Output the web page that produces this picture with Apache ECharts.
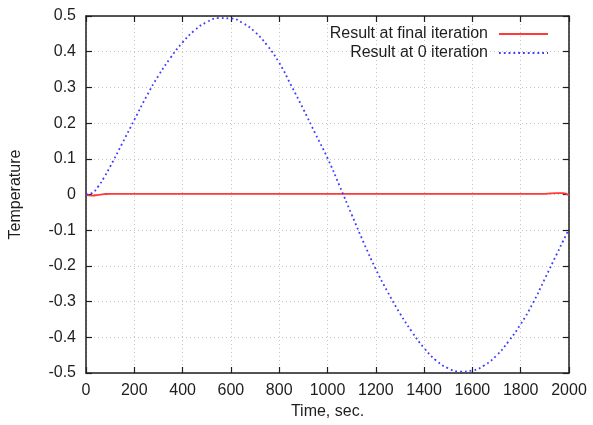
<!DOCTYPE html>
<html>
<head>
<meta charset="utf-8">
<script src="https://cdn.jsdelivr.net/npm/echarts@6/dist/echarts.min.js"></script>
<style>
  html, body { margin: 0; padding: 0; background: #fff; }
  #chart { width: 593px; height: 425px; }
</style>
</head>
<body>
<div id="chart"></div>
<script>
// Time samples (s)
const timeSec = [0, 25, 50, 75, 100, 150, 200, 250, 300, 350, 400, 450, 500, 550, 600, 650, 700, 750, 800, 850, 900, 950, 1000,
  1050, 1100, 1150, 1200, 1250, 1300, 1350, 1400, 1450, 1500, 1550, 1600, 1650, 1700, 1750, 1800, 1850, 1900, 1950, 1975, 2000];
// Temperature at iteration 0
const result0Iter = [0.000, 0.004, 0.022, 0.048, 0.078, 0.143, 0.209, 0.274, 0.333, 0.383, 0.426, 0.460, 0.483, 0.494, 0.493, 0.480, 0.455, 0.418, 0.369, 0.305, 0.239, 0.170, 0.102,
  0.024, -0.056, -0.135, -0.209, -0.274, -0.333, -0.385, -0.430, -0.465, -0.487, -0.496, -0.493, -0.478, -0.451, -0.411, -0.363, -0.305, -0.236, -0.166, -0.131, -0.097];
// Temperature at the final iteration
const resultFinal = [-0.001, -0.003, -0.001, 0.001, 0.002, 0.002, 0.002, 0.002, 0.002, 0.002, 0.002, 0.002, 0.002, 0.002, 0.002, 0.002, 0.002, 0.002, 0.002, 0.002, 0.002, 0.002, 0.002,
  0.002, 0.002, 0.002, 0.002, 0.002, 0.002, 0.002, 0.002, 0.002, 0.002, 0.002, 0.002, 0.002, 0.002, 0.002, 0.002, 0.002, 0.002, 0.004, 0.004, -0.002];

const xTicks = { min: 0, max: 2000, interval: 200 };
const yTicks = { min: -0.5, max: 0.5, interval: 0.1 };

const FONT = 'Liberation Sans, Arial, sans-serif';
const FS = 16;
const INK = '#1e1e1e';
const pairs = (ys) => timeSec.map((t, i) => [t, ys[i]]);
const fmtY = (v) => String(Math.round(v * 10) / 10);

const gridLine = { show: true, lineStyle: { color: '#c4c4c4', type: [1, 3], width: 1 } };
const frameLine = { show: true, onZero: false, lineStyle: { color: INK, width: 1.5 } };
const innerTick = { show: true, inside: true, length: 6, lineStyle: { color: INK, width: 1.2 } };

// Key entries: text on the left, line sample on the right (no marker)
const legendBase = {
  orient: 'horizontal',
  align: 'right',
  right: 39,
  itemWidth: 49,
  itemHeight: 2,
  textStyle: { fontFamily: FONT, fontSize: FS, color: INK, padding: [0, 6, 0, 0] }
};

const chart = echarts.init(document.getElementById('chart'), null, { renderer: 'canvas' });
chart.setOption({
  animation: false,
  backgroundColor: '#fff',
  grid: { left: 83, right: 24, top: 16, bottom: 52, containLabel: false },
  legend: [
    Object.assign({}, legendBase, { top: 21, data: ['Result at final iteration'] }),
    Object.assign({}, legendBase, { top: 40, data: ['Result at 0 iteration'] })
  ],
  xAxis: [
    {
      type: 'value', min: xTicks.min, max: xTicks.max, interval: xTicks.interval,
      name: 'Time, sec.', nameLocation: 'middle', nameGap: 31,
      nameTextStyle: { fontFamily: FONT, fontSize: FS, color: INK },
      axisLine: frameLine,
      axisTick: innerTick,
      axisLabel: { fontFamily: FONT, fontSize: FS, color: INK, margin: 10, formatter: (v) => String(v) },
      splitLine: gridLine
    },
    {
      type: 'value', position: 'top', min: xTicks.min, max: xTicks.max, interval: xTicks.interval,
      axisLine: frameLine, axisTick: innerTick, axisLabel: { show: false }, splitLine: { show: false }
    }
  ],
  yAxis: [
    {
      type: 'value', min: yTicks.min, max: yTicks.max, interval: yTicks.interval,
      name: 'Temperature', nameLocation: 'middle', nameGap: 62, nameRotate: 90,
      nameTextStyle: { fontFamily: FONT, fontSize: FS, color: INK },
      axisLine: frameLine,
      axisTick: innerTick,
      axisLabel: { fontFamily: FONT, fontSize: FS, color: INK, margin: 10, formatter: fmtY },
      splitLine: gridLine
    },
    {
      type: 'value', position: 'right', min: yTicks.min, max: yTicks.max, interval: yTicks.interval,
      axisLine: frameLine, axisTick: innerTick, axisLabel: { show: false }, splitLine: { show: false }
    }
  ],
  series: [
    {
      name: 'Result at final iteration', type: 'line', smooth: true, symbol: 'none',
      data: pairs(resultFinal),
      lineStyle: { color: '#ff3a3a', width: 1.8 },
      itemStyle: { color: '#ff3a3a' },
      z: 3
    },
    {
      name: 'Result at 0 iteration', type: 'line', smooth: true, symbol: 'none',
      data: pairs(result0Iter),
      lineStyle: { color: '#3d3dff', width: 1.8, type: [1.8, 3] },
      itemStyle: { color: '#3d3dff' },
      z: 4
    }
  ]
});
</script>
</body>
</html>
